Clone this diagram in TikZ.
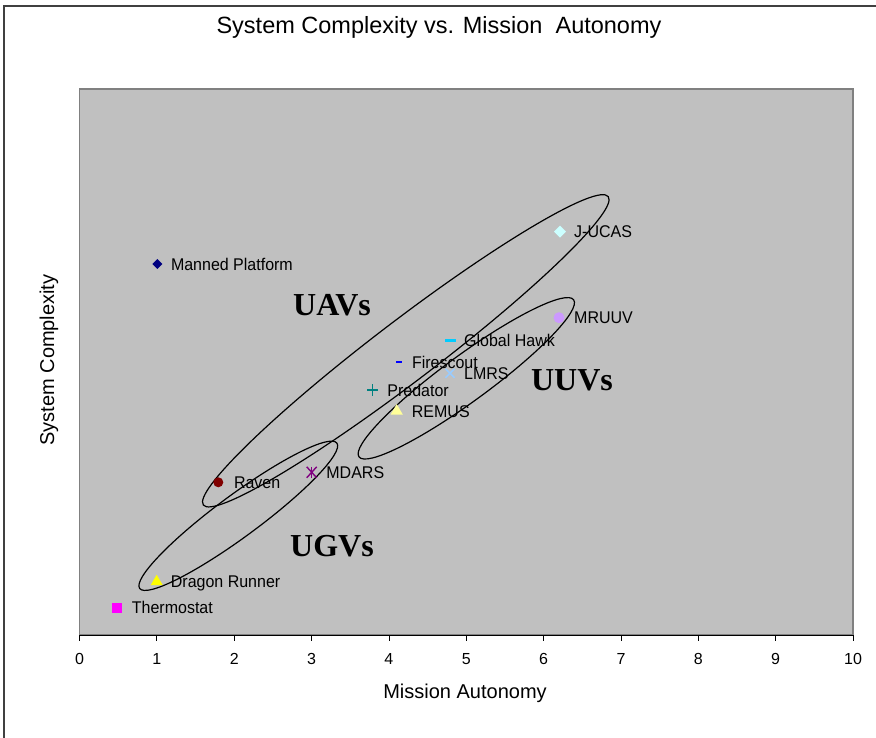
\documentclass[tikz,border=0pt]{standalone}
\usepackage{fontspec}
\setmainfont{Liberation Sans}
\newfontfamily\groupfont{Liberation Serif}
\usetikzlibrary{positioning}
\usetikzlibrary{shapes.geometric}
\usetikzlibrary{shapes.misc}

\definecolor{plotgray}{HTML}{C0C0C0}
\definecolor{edgegray}{HTML}{808080}
\definecolor{framegray}{HTML}{404040}
\definecolor{mpnavy}{HTML}{000080}
\definecolor{jucascyan}{HTML}{CCFFFF}
\definecolor{mruuvlilac}{HTML}{CC99FF}
\definecolor{ghcyan}{HTML}{00CCFF}
\definecolor{fsblue}{HTML}{0000FF}
\definecolor{lmrsblue}{HTML}{99CCFF}
\definecolor{predteal}{HTML}{008080}
\definecolor{remusyellow}{HTML}{FFFF99}
\definecolor{ravenred}{HTML}{800000}
\definecolor{mdarspurple}{HTML}{800080}
\definecolor{drunyellow}{HTML}{FFFF00}
\definecolor{thermmagenta}{HTML}{FF00FF}

\tikzset{
  datum/.style={inner sep=0pt, outer sep=0pt},
  tri/.style={datum, regular polygon, regular polygon sides=3, minimum size=14pt},
  lbl/.style={font=\fontsize{16}{19}\selectfont, inner sep=0pt, text height=11.5pt, text depth=0pt, yscale=1.06, transform shape},
  group/.style={font=\groupfont\bfseries\fontsize{32}{36}\selectfont, inner sep=0pt},
  ring/.style={ellipse, draw=black, line width=1.2pt, inner sep=0pt},
  axtitle/.style={font=\fontsize{20}{24}\selectfont, inner sep=0pt},
}

\begin{document}
\begin{tikzpicture}[x=1pt, y=-1pt]
\useasboundingbox (0,0) rectangle (876,738);
\fill[white] (0,0) rectangle (876,738);
\draw[framegray, line width=2pt] (4,738) -- (4,6) -- (876,6);

% Plot area
\draw[fill=plotgray, draw=edgegray, line width=1.5pt] (79.5,89) rectangle (853,635);
\draw[black, line width=1pt] (79.5,635) -- (853,635);
\foreach \i in {0,...,10}{
  \draw[black, line width=0.8pt] ({79.5+77.35*\i},635) -- ++(0,6);
  \node[font=\fontsize{16}{19}\selectfont] (tick\i) at ({79.5+77.35*\i},659) {\i};
}

% Titles
\node[font=\fontsize{23.5}{28}\selectfont] (title) at (439,27) {System Complexity vs. Mission\ \ Autonomy};
\node[axtitle] (xtitle) at (465,693) {Mission Autonomy};
\node[axtitle, rotate=90] (ytitle) at (49,360) {System Complexity};

% Groups
\node[ring, minimum width=509pt, minimum height=61pt, rotate=37.3] (uavring) at (405.8,350.8) {};
\node[ring, minimum width=266pt, minimum height=46pt, rotate=36.2] (uuvring) at (466.3,378.3) {};
\node[ring, minimum width=245pt, minimum height=42pt, rotate=36.4] (ugvring) at (238.3,515.8) {};
\node[group] (uavtxt) at (332,305) {UAVs};
\node[group] (uuvtxt) at (572,380) {UUVs};
\node[group] (ugvtxt) at (332,546) {UGVs};

% Define nodes
\node[datum, diamond, fill=mpnavy, minimum size=10pt] (manned) at (157.3,264) {};
\node[datum, diamond, fill=jucascyan, minimum size=12pt] (jucas) at (560,231.7) {};
\node[datum, circle, fill=mruuvlilac, minimum size=11pt] (mruuv) at (559,317.7) {};
\node[datum, rectangle, fill=ghcyan, minimum width=11pt, minimum height=2.5pt] (ghawk) at (450,340.7) {};
\node[datum, rectangle, fill=fsblue, minimum width=6pt, minimum height=2.5pt] (fscout) at (399.3,362) {};
\node[datum, cross out, draw=lmrsblue, line width=1.5pt, minimum size=9pt] (lmrs) at (450,373.3) {};
\node[datum, cross out, rotate=45, draw=predteal, line width=1.3pt, minimum size=8pt] (predator) at (372.7,390) {};
\node[tri, fill=remusyellow] (remus) at (396.7,411) {};
\node[datum, circle, fill=ravenred, minimum size=10pt] (raven) at (218.3,482.3) {};
\node[datum, cross out, draw=mdarspurple, line width=1.4pt, minimum width=10pt, minimum height=11pt] (mdars) at (311.7,472.3) {};
\draw[mdarspurple, line width=1.4pt] (mdars.north) -- (mdars.south);
\node[tri, fill=drunyellow] (drunner) at (156.7,581.7) {};
\node[datum, rectangle, fill=thermmagenta, minimum size=10pt] (thermo) at (116.7,607.7) {};

% Labels
\node[lbl, right=13.5pt of manned.center] (mannedtxt) {Manned Platform};
\node[lbl, right=14pt of jucas.center] (jucastxt) {J-UCAS};
\node[lbl, right=15pt of mruuv.center] (mruuvtxt) {MRUUV};
\node[lbl, right=14pt of ghawk.center] (ghawktxt) {Global Hawk};
\node[lbl, right=12.5pt of fscout.center] (fscouttxt) {Firescout};
\node[lbl, right=14pt of lmrs.center] (lmrstxt) {LMRS};
\node[lbl, right=14.5pt of predator.center] (predatortxt) {Predator};
\node[lbl, right=15pt of remus.center] (remustxt) {REMUS};
\node[lbl, right=15.5pt of raven.center] (raventxt) {Raven};
\node[lbl, right=14.5pt of mdars.center] (mdarstxt) {MDARS};
\node[lbl, right=14pt of drunner.center] (drunnertxt) {Dragon Runner};
\node[lbl, right=15pt of thermo.center] (thermotxt) {Thermostat};
\end{tikzpicture}
\end{document}
